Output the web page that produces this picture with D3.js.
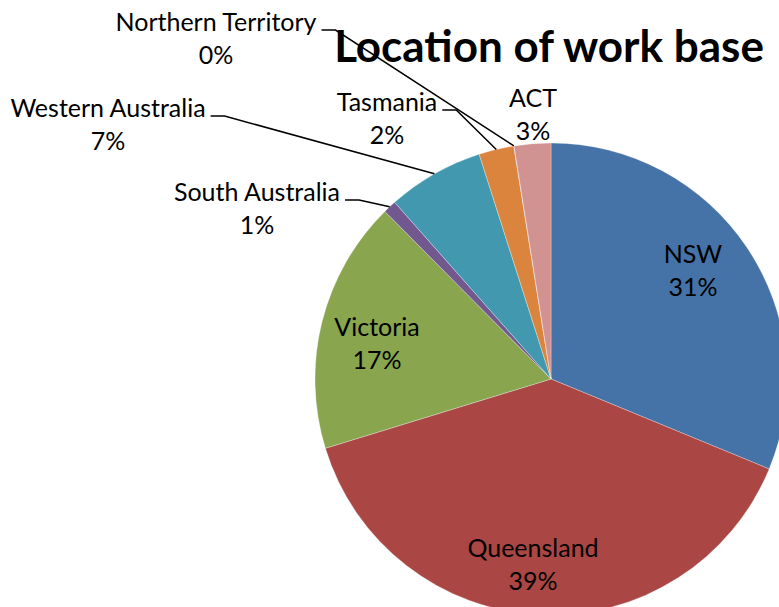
<!DOCTYPE html>
<html lang="en">
  <head>
    <meta charset="utf-8">
    <title>Location of work base</title>
    <style>
      body { margin: 0; background: #fff; }
      svg { display: block; font-family: Lato, "Open Sans", sans-serif; }
    </style>
    <script src="https://d3js.org/d3.v7.min.js"></script>
  </head>
  <body>
    <script>
    // data (share of respondents, %)
    const regions = ["NSW", "Queensland", "Victoria", "South Australia",
      "Western Australia", "Tasmania", "Northern Territory", "ACT"];
    const shares = [31.2, 39.0, 17.3, 0.9, 6.6, 2.4, 0.02, 2.5];
    const pctLabels = ["31%", "39%", "17%", "1%", "7%", "2%", "0%", "3%"];
    const colors = ["#4572a7", "#aa4643", "#89a54e", "#71588f",
      "#4198af", "#db843d", "#93a9cf", "#d19392"];

    // where Excel put each label (centre x, first baseline) and whether it has a leader
    const labelLayout = {
      "NSW": { x: 693, y: 263 },
      "Queensland": { x: 533, y: 557 },
      "Victoria": { x: 377, y: 336 },
      "South Australia": { x: 257, y: 201, leader: true },
      "Western Australia": { x: 108, y: 117, leader: true },
      "Tasmania": { x: 387, y: 111, leader: true },
      "Northern Territory": { x: 216, y: 31, leader: true },
      "ACT": { x: 533, y: 107 }
    };

    const width = 779, height = 607;
    const cx = 551, cy = 379, radius = 236;
    const lineGap = 33;

    const data = regions.map((r, i) => ({ region: r, value: shares[i], pct: pctLabels[i], color: colors[i] }));

    const svg = d3.select("body")
      .append("svg")
      .attr("width", width)
      .attr("height", height);

    const pie = d3.pie()
      .sort(null)
      .value(d => d.value);

    const arc = d3.arc()
      .innerRadius(0)
      .outerRadius(radius);

    const edge = d3.arc()
      .innerRadius(radius)
      .outerRadius(radius);

    const arcs = pie(data);

    const g = svg.append("g")
      .attr("transform", `translate(${cx},${cy})`);

    g.selectAll("path")
      .data(arcs)
      .join("path")
      .attr("d", arc)
      .attr("fill", d => d.data.color)
      .attr("stroke", "#ffffff")
      .attr("stroke-width", 0.3);

    // leader lines: from end of the label text, short horizontal, then to the slice edge
    const labelSize = 25;
    const labels = svg.append("g");

    arcs.forEach(d => {
      const lay = labelLayout[d.data.region];
      const t = labels.append("text")
        .attr("x", lay.x)
        .attr("y", lay.y)
        .attr("text-anchor", "middle")
        .style("font-size", labelSize + "px")
        .style("fill", "#000");
      t.append("tspan").attr("x", lay.x).text(d.data.region);
      t.append("tspan").attr("x", lay.x).attr("dy", lineGap).text(d.data.pct);

      if (lay.leader) {
        const w = t.select("tspan").node().getComputedTextLength();
        const x0 = lay.x + w / 2 + 5;
        const y0 = lay.y - 1;
        const [ex, ey] = edge.centroid(d);
        labels.append("polyline")
          .attr("points", [[x0, y0], [x0 + 14, y0], [cx + ex, cy + ey]].map(p => p.join(",")).join(" "))
          .attr("fill", "none")
          .attr("stroke", "#000")
          .attr("stroke-width", 1.5);
      }
    });

    svg.append("text")
      .attr("x", 549)
      .attr("y", 62)
      .attr("text-anchor", "middle")
      .style("font-size", "44px")
      .style("font-weight", "bold")
      .style("fill", "#000")
      .text("Location of work base");
    </script>
  </body>
</html>
